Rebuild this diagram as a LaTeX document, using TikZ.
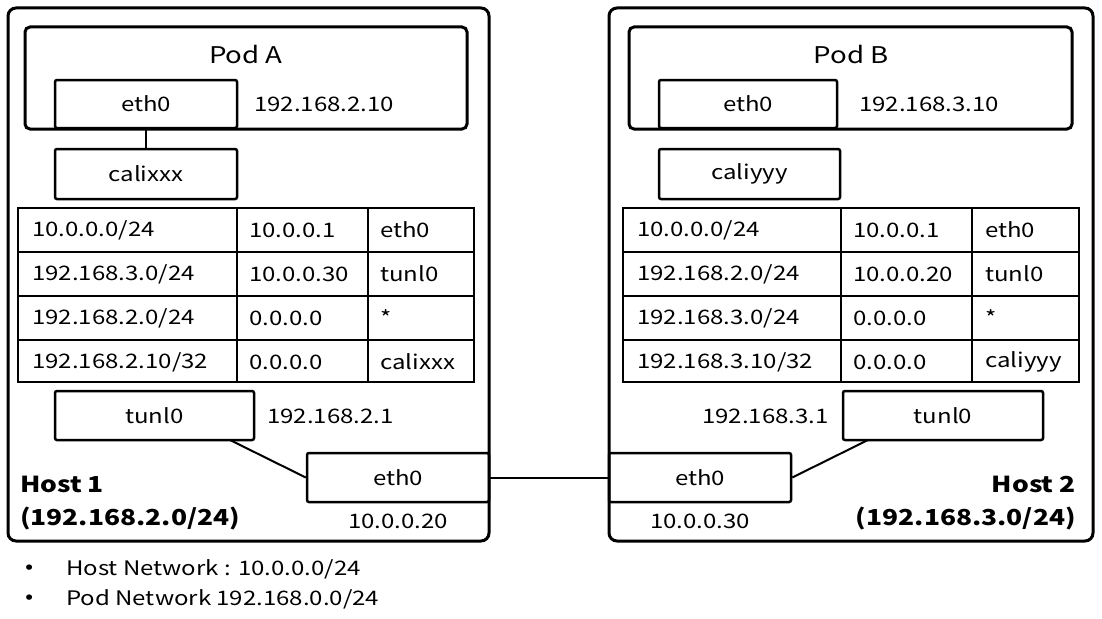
\documentclass[tikz,border=0pt]{standalone}
\usepackage{fontspec}
\setmainfont{Noto Sans CJK KR}[FakeStretch=1.2]
\begin{document}
\begin{tikzpicture}[x=1pt,y=-1pt,
  host/.style={draw,line width=3pt,rounded corners=8pt},
  pod/.style={draw,line width=3pt,rounded corners=5pt},
  bx/.style={draw,line width=2.5pt,rounded corners=2pt,inner sep=0pt,font=\fontsize{20}{24}\selectfont},
  t/.style={font=\fontsize{20}{24}\selectfont,inner sep=0pt},
  cell/.style={t,anchor=west},
  ln/.style={line width=2pt}]
\useasboundingbox (0,0) rectangle (1102,618);
% Host 1
\draw[host] (8,8) rectangle (489,541);
\draw[pod] (25,27) rectangle (467,129);
\node[t,font=\fontsize{23}{26}\selectfont] (pa) at (246,54) {Pod A};
\node[bx,minimum width=182pt,minimum height=48pt] (ea) at (146,104) {eth0};
\node[t,anchor=west] (ipa) at (254,104) {192.168.2.10};
\node[bx,minimum width=182pt,minimum height=50pt] (ca) at (146,174) {calixxx};
\draw[ln] (ea.south) -- (ca.north);
\draw[line width=1.5pt] (18,208) rectangle (474,382);
\foreach \y in {252,296,340} \draw[line width=1.5pt] (18,\y) -- (474,\y);
\foreach \x in {237,368} \draw[line width=1.5pt] (\x,208) -- (\x,382);
\foreach \a/\b/\c/\y in {{10.0.0.0/24}/10.0.0.1/eth0/230, {192.168.3.0/24}/10.0.0.30/tunl0/274, {192.168.2.0/24}/0.0.0.0/*/318, {192.168.2.10/32}/0.0.0.0/calixxx/362}{
  \node[cell] at (32,\y) {\a}; \node[cell] at (249,\y) {\b}; \node[cell] at (380,\y) {\c};}
\node[bx,minimum width=199pt,minimum height=49pt] (ta) at (154.5,415.5) {tunl0};
\node[t,anchor=west] (ipta) at (267,416) {192.168.2.1};
\node[bx,minimum width=182pt,minimum height=49pt] (ha) at (398,477.5) {eth0};
\node[t] (iph1) at (398,521) {10.0.0.20};
\node[t,anchor=west,font=\fontsize{22}{26}\selectfont\bfseries] (h1) at (20,484) {Host 1};
\node[t,anchor=west,font=\fontsize{22}{26}\selectfont\bfseries] (h1n) at (20,518) {(192.168.2.0/24)};
\coordinate (tas) at (230,440);
\draw[ln] (tas) -- (ha.west);
% Host 2
\draw[host] (609,8) rectangle (1093,541);
\draw[pod] (629,27) rectangle (1072,129);
\node[t,font=\fontsize{23}{26}\selectfont] (pb) at (851,54) {Pod B};
\node[bx,minimum width=178pt,minimum height=48pt] (eb) at (748,104) {eth0};
\node[t,anchor=west] (ipb) at (859,104) {192.168.3.10};
\node[bx,minimum width=181pt,minimum height=50pt] (cb) at (749.5,174) {caliyyy};
\draw[line width=1.5pt] (623,208) rectangle (1079,382);
\foreach \y in {252,296,340} \draw[line width=1.5pt] (623,\y) -- (1079,\y);
\foreach \x in {841,972} \draw[line width=1.5pt] (\x,208) -- (\x,382);
\foreach \a/\b/\c/\y in {{10.0.0.0/24}/10.0.0.1/eth0/230, {192.168.2.0/24}/10.0.0.20/tunl0/274, {192.168.3.0/24}/0.0.0.0/*/318, {192.168.3.10/32}/0.0.0.0/caliyyy/362}{
  \node[cell] at (637,\y) {\a}; \node[cell] at (853,\y) {\b}; \node[cell] at (985,\y) {\c};}
\node[bx,minimum width=200pt,minimum height=49pt] (tb) at (943,415.5) {tunl0};
\node[t,anchor=east] (iptb) at (829,416) {192.168.3.1};
\node[bx,minimum width=182pt,minimum height=49pt] (hb) at (700,477.5) {eth0};
\node[t] (iph2) at (700,521) {10.0.0.30};
\node[t,anchor=east,font=\fontsize{22}{26}\selectfont\bfseries] (h2) at (1076,484) {Host 2};
\node[t,anchor=east,font=\fontsize{22}{26}\selectfont\bfseries] (h2n) at (1076,518) {(192.168.3.0/24)};
\coordinate (tbs) at (868,440);
\draw[ln] (hb.east) -- (tbs);
\draw[ln] (ha.east) -- (hb.west);
% notes
\node[t] (b1) at (30,569) {•};
\node[t,anchor=west] (n1) at (66,569) {Host Network : 10.0.0.0/24};
\node[t] (b2) at (30,599) {•};
\node[t,anchor=west] (n2) at (66,599) {Pod Network 192.168.0.0/24};
\end{tikzpicture}
\end{document}
